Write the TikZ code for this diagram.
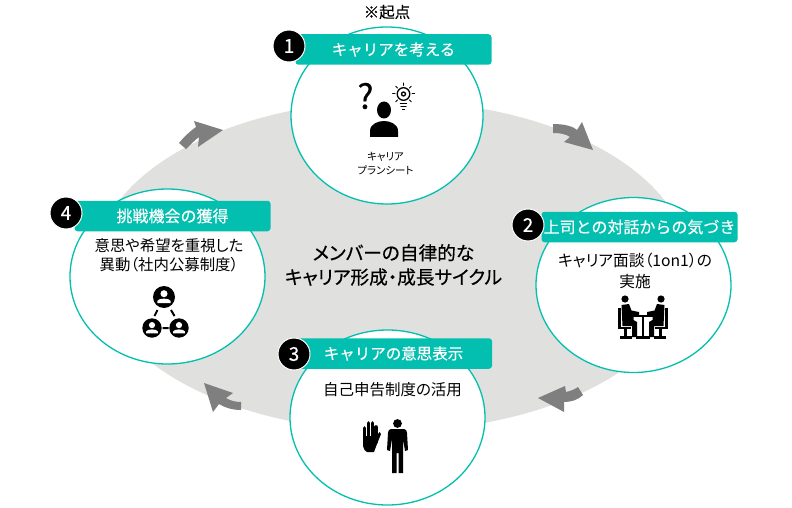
\documentclass[tikz,border=0pt]{standalone}
\usepackage{fontspec}
\setmainfont{Noto Sans CJK JP}
\newfontfamily\jpmed[FakeBold=0.35]{Noto Sans CJK JP}
\newfontfamily\jphv[FakeBold=0.5,RawFeature={+palt}]{Noto Sans CJK JP}
\newfontfamily\jptxt[RawFeature={+palt}]{Noto Sans CJK JP}
\usetikzlibrary{shapes.geometric}
\definecolor{teal1}{HTML}{02BFAF}
\definecolor{gray1}{HTML}{E0E0DE}
\definecolor{gray2}{HTML}{7F7F7F}
\newcommand{\fs}[1]{\fontsize{#1}{#1}\selectfont}
\tikzset{
  x=1pt,y=-1pt,
  bigcircle/.style={ellipse,draw=teal1,line width=1.3pt,fill=white,minimum width=195pt,minimum height=175pt,inner sep=0pt},
  banner/.style={rectangle,fill=teal1,rounded corners=3pt,minimum height=30.5pt,minimum width=196pt,inner sep=0pt,text=white,font=\jpmed\fs{15.5}},
  badge/.style={circle,fill=black,draw=white,line width=1pt,minimum size=32pt,inner sep=0pt,text=white,font=\jpmed\fs{19}},
  body/.style={align=center,text=black,inner sep=0pt,font=\jptxt\fs{15.4}},
  turn/.style={fill=gray2,draw=none},
  ic/.style={fill=black,draw=none},
  icl/.style={draw=black,line cap=round},
}
\begin{document}
\begin{tikzpicture}
\useasboundingbox (0,0) rectangle (792,508);
\fill[white] (0,0) rectangle (792,508);
\node[ellipse,fill=gray1,minimum width=594pt,minimum height=330pt,inner sep=0pt] (cycle) at (392,266) {};

% turning arrows
\fill[turn] (553,124) .. controls (566,124) and (574,127) .. (577,130) -- (582,122) -- (593,150) -- (564,142) -- (570,137) .. controls (566,134) and (560,133) .. (553,133) -- cycle;
\fill[turn] (538,398) -- (565,386) -- (566,392) .. controls (571,391) and (575,389) .. (578,387) -- (583,395) .. controls (578,400) and (571,402) .. (564,402) -- (564,412) -- cycle;
\fill[turn] (204,383) -- (233,393) -- (226,398) .. controls (231,401) and (236,402) .. (241,402) -- (241,410) .. controls (231,410) and (224,407) .. (219,404) -- (213,412) -- cycle;
\fill[turn] (223,130) -- (194,121) -- (196,127) .. controls (189,132) and (183,138) .. (179,143) -- (186,149) .. controls (190,145) and (195,140) .. (199,137) -- (198,147) -- cycle;

% circles
\node[bigcircle,minimum width=192pt,minimum height=177pt] (c1) at (387,115.5) {};
\node[bigcircle] (c2) at (633.5,285) {};
\node[bigcircle] (c3) at (387.5,417.5) {};
\node[bigcircle] (c4) at (167.5,276.5) {};

% banners
\node[banner] (b1) at (393.5,49.5) {キャリアを考える};
\node[banner,font=\jpmed\fs{16}] (b2) at (639.5,227) {上司との対話からの気づき};
\node[banner,minimum width=194pt] (b3) at (395,353.5) {\kern-3pt キャリアの意思表示};
\node[banner,font=\jpmed\fs{16}] (b4) at (172.5,216) {挑戦機会の獲得};

% badges
\node[badge] (n1) at (289,46) {1};
\node[badge] (n2) at (528,225) {2};
\node[badge] (n3) at (294,354) {3};
\node[badge] (n4) at (66,213) {4};

% free labels
\node[inner sep=0pt,font=\jpmed\fs{15.5}] (start) at (387,12) {※起点};
\node[align=center,inner sep=0pt,font=\jphv\fs{18.7}] (title) at (393.5,265) {メンバーの自律的な\\[5.5pt]キャリア形成・成長サイクル};
\node[body,font=\jptxt\fs{10.5}] (t1) at (385.5,163.5) {キャリア\\[3pt]プランシート};
\node[body,font=\jptxt\fs{15.7}] (t2) at (635,271) {キャリア面談（1on1）の\\[5pt]実施};
\node[body,font=\jptxt\fs{15.5}] (t3) at (392.5,390) {自己申告制度の活用};
\node[body] (t4) at (169,255.5) {意思や希望を重視した\\[4pt]異動（社内公募制度）};

% icon 1
\node[inner sep=0pt,font=\jpmed\fs{34}] (q) at (365.5,96) {?};
\fill[ic] (384,110) ellipse (7 and 8.5);
\fill[ic] (370,137) -- (370,131) .. controls (370,124) and (378,121) .. (384,121) .. controls (390,121) and (398,124) .. (398,131) -- (398,137) -- cycle;
\draw[black,line width=1.3pt] (403.5,94) circle (6.3);
\draw[black,line width=1.3pt] (403.5,94) circle (2);
\draw[icl,line width=1.4pt] (400.5,103.5) -- (406.5,103.5) (401,106.5) -- (406,106.5) (402.5,109.5) -- (404.5,109.5);
\foreach \a in {0,45,135,180,225,315,270} \draw[icl,line width=1pt] (403.5,94) ++(\a:8.5) -- ++(\a:2.5);

% icon 2
\foreach \m/\d in {1/0,-1/1286} {
\begin{scope}[xshift=\d pt,xscale=\m]
  \fill[ic] (625,299) circle (3.6);
  \fill[ic] (621.5,305) -- (629,304) -- (631.5,310.5) -- (639,312) -- (639,316.5) -- (633.5,316.5) -- (633.5,320) -- (637,322) -- (637,337) -- (632,337) -- (632,326) -- (622.5,326) -- cycle;
  \draw[black,line width=2.2pt] (619.5,308) -- (619.5,328) -- (631,328) (625.5,328) -- (625.5,337);
  \draw[black,line width=2.2pt] (620,337.5) -- (632,337.5);
\end{scope}}
\draw[black,line width=2.4pt] (630,316) -- (656,316);
\draw[black,line width=2.4pt] (643,316) -- (643,337);
\draw[black,line width=2.2pt] (636,337.5) -- (650,337.5);

% icon 3
\foreach \px/\tp in {364.5/428,368.5/423,372.5/423,376/427} \draw[icl,line width=3.6pt] (\px,\tp) -- (\px,442);
\fill[ic] (363,436) -- (363,446) .. controls (364,449) and (365,452) .. (367,452) -- (374,452) -- (377,444) -- (381,434) -- (379.5,432) -- (375,438) -- (374.5,436) -- cycle;
\fill[ic] (397.5,423.5) circle (4.4);
\fill[ic] (391,429) -- (404,429) .. controls (406,429) and (407,431) .. (407,433) -- (408,450) -- (405,451) -- (403,439) -- (403,473) -- (398.5,473) -- (398.5,453) -- (396.5,453) -- (396.5,473) -- (392,473) -- (392,439) -- (390,451) -- (387,450) -- (388,433) .. controls (388,431) and (389,429) .. (391,429) -- cycle;

% icon 4
\foreach \cx/\cy/\r in {164/297/11,152/328/9.7,179/328/9.7} {
  \fill[ic] (\cx,\cy) circle (\r);
  \fill[white] (\cx,\cy-0.3*\r) circle (0.32*\r);
  \fill[white] (\cx-0.6*\r,\cy+0.55*\r) -- (\cx-0.6*\r,\cy+0.35*\r) .. controls (\cx-0.5*\r,\cy+0.08*\r) and (\cx+0.5*\r,\cy+0.08*\r) .. (\cx+0.6*\r,\cy+0.35*\r) -- (\cx+0.6*\r,\cy+0.55*\r) -- cycle;
}
\draw[black,line width=2pt] (157.5,310) -- (154.5,316) (171,310) -- (174.5,316) (162.5,328) -- (168.5,328);
\end{tikzpicture}
\end{document}
